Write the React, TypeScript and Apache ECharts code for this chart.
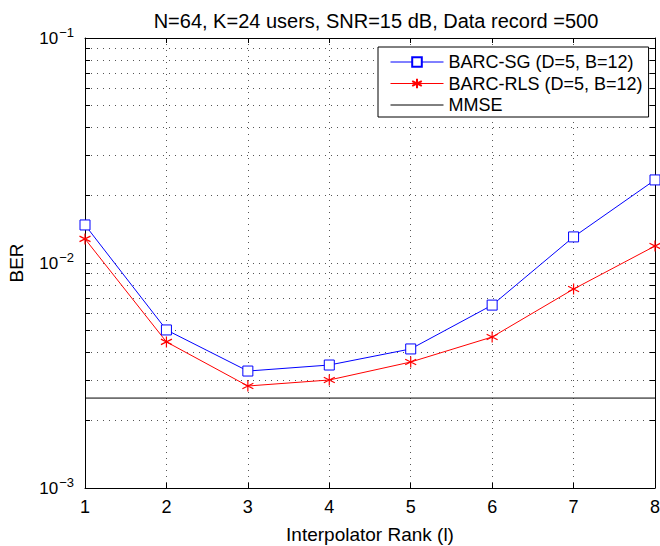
import React, { useEffect, useRef } from "react";
import * as echarts from "echarts";

const ranks = [1, 2, 3, 4, 5, 6, 7, 8];
const barcSG = [0.01476, 0.00504, 0.00331, 0.00352, 0.00415, 0.0065, 0.01306, 0.0234];
const barcRLS = [0.0128, 0.00446, 0.00284, 0.00302, 0.00363, 0.00469, 0.00766, 0.0119];
const mmse = 0.00251;
const yTicks = [
  0.001, 0.002, 0.003, 0.004, 0.005, 0.006, 0.007, 0.008, 0.009,
  0.01, 0.02, 0.03, 0.04, 0.05, 0.06, 0.07, 0.08, 0.09, 0.1,
];
const yLabels = [0.001, 0.01, 0.1];
const expLabel: Record<string, string> = { "0.001": "−3", "0.01": "−2", "0.1": "−1" };

const FONT = "Liberation Sans, Arial, Helvetica, sans-serif";
const ASTERISK = "path://M0,-5L0,5M-4.33,-2.5L4.33,2.5M-4.33,2.5L4.33,-2.5";

export default function App() {
  const ref = useRef<HTMLDivElement>(null);
  useEffect(() => {
    document.body.style.margin = "0";
    const chart = echarts.init(ref.current!, null, { renderer: "svg" });
    const tickStyle = { show: true, inside: true, length: 5, lineStyle: { color: "#000", width: 1 } };
    chart.setOption({
      animation: false,
      backgroundColor: "#fff",
      textStyle: { fontFamily: FONT },
      title: {
        text: "N=64, K=24 users, SNR=15 dB, Data record =500",
        left: 371,
        textAlign: "center",
        top: 6,
        textStyle: { fontSize: 20, fontWeight: "normal", color: "#000", fontFamily: FONT },
      },
      grid: { left: 85, right: 5, top: 38, bottom: 58, containLabel: false, outerBoundsMode: "none" },
      legend: {
        left: 378,
        top: 47,
        orient: "vertical",
        itemWidth: 53,
        itemHeight: 12,
        itemGap: 3.5,
        padding: [6, 6, 3, 12],
        borderColor: "#000",
        borderWidth: 1,
        backgroundColor: "#fff",
        lineStyle: { width: 1 },
        textStyle: { fontSize: 18, lineHeight: 18, color: "#000", fontFamily: FONT },
        data: [
          "BARC-SG (D=5, B=12)",
          "BARC-RLS (D=5, B=12)",
          { name: "MMSE", itemStyle: { opacity: 0 } },
        ],
      },
      xAxis: [
        {
          type: "value",
          min: 1,
          max: 8,
          interval: 1,
          name: "Interpolator Rank (l)",
          nameLocation: "middle",
          nameGap: 37,
          nameTextStyle: { fontSize: 19, color: "#000", fontFamily: FONT },
          axisLine: { show: true, lineStyle: { color: "#000", width: 1 } },
          axisTick: tickStyle,
          axisLabel: { fontSize: 18, color: "#000", margin: 10, fontFamily: FONT },
          splitLine: { show: true, lineStyle: { type: [1, 5], color: "#555", width: 1 } },
        },
        {
          type: "value",
          position: "top",
          min: 1,
          max: 8,
          interval: 1,
          axisLine: { show: true, lineStyle: { color: "#000", width: 1 } },
          axisTick: tickStyle,
          axisLabel: { show: false },
          splitLine: { show: false },
        },
      ],
      yAxis: [
        {
          type: "log",
          logBase: 10,
          min: 0.001,
          max: 0.1,
          name: "BER",
          nameLocation: "middle",
          nameGap: 59,
          nameTextStyle: { fontSize: 19, color: "#000", fontFamily: FONT },
          axisLine: { show: true, lineStyle: { color: "#000", width: 1 } },
          axisTick: { ...tickStyle, customValues: yTicks },
          axisLabel: {
            customValues: yLabels,
            margin: 11,
            color: "#000",
            formatter: (v: number) => {
              const key = String(+v.toPrecision(3));
              return "{b|10}{s|" + (expLabel[key] ?? "") + "}";
            },
            rich: {
              b: { fontSize: 17, color: "#000", fontFamily: FONT },
              s: { fontSize: 13, color: "#000", fontFamily: FONT, verticalAlign: "bottom", padding: [0, 0, 12, 1] },
            },
          },
          splitLine: { show: true, lineStyle: { type: [1, 5], color: "#555", width: 1 } },
        },
        {
          type: "log",
          logBase: 10,
          min: 0.001,
          max: 0.1,
          position: "right",
          axisLine: { show: true, lineStyle: { color: "#000", width: 1 } },
          axisTick: { ...tickStyle, customValues: yTicks },
          axisLabel: { show: false },
          splitLine: { show: false },
        },
      ],
      series: [
        {
          name: "BARC-SG (D=5, B=12)",
          type: "line",
          data: ranks.map((r, i) => [r, barcSG[i]]),
          symbol: "rect",
          symbolSize: 10,
          lineStyle: { color: "#0000ff", width: 1 },
          itemStyle: { color: "#fff", borderColor: "#0000ff", borderWidth: 1 },
          z: 3,
        },
        {
          name: "BARC-RLS (D=5, B=12)",
          type: "line",
          data: ranks.map((r, i) => [r, barcRLS[i]]),
          symbol: ASTERISK,
          symbolSize: 11,
          lineStyle: { color: "#ff0000", width: 1 },
          itemStyle: { color: "none", borderColor: "#ff0000", borderWidth: 1.2 },
          z: 3,
        },
        {
          name: "MMSE",
          type: "line",
          data: ranks.map((r) => [r, mmse]),
          symbol: "none",
          lineStyle: { color: "#000", width: 1 },
          itemStyle: { color: "#000" },
          z: 2,
        },
      ],
    });
    return () => chart.dispose();
  }, []);
  return <div ref={ref} style={{ width: 660, height: 546 }} />;
}
